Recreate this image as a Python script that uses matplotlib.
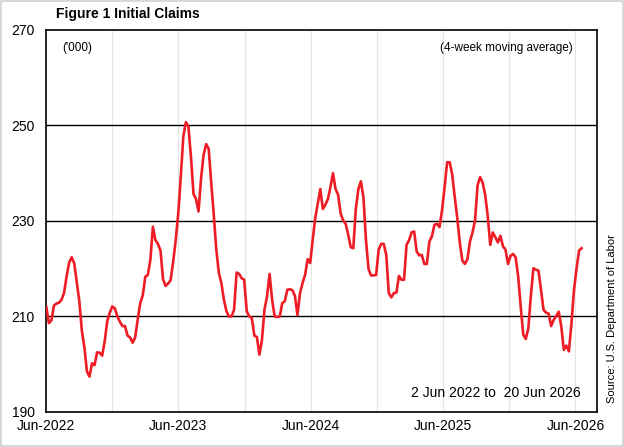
import datetime as dt

import matplotlib
matplotlib.use("Agg")
import matplotlib.dates as mdates
import matplotlib.pyplot as plt
from matplotlib.patches import Rectangle

plt.rcParams["font.family"] = ["Liberation Sans", "DejaVu Sans"]

# 4-week moving average of initial claims ('000), weekly from 2 Jun 2022
START = dt.date(2022, 6, 2)
claims = [
    212.0, 208.6, 209.2, 212.3, 212.7, 212.9, 213.5, 215.0, 218.5, 221.3,
    222.4, 221.1, 217.2, 213.2, 207.0, 203.5, 198.5, 197.4, 200.2, 199.8,
    202.5, 202.4, 201.8, 204.8, 209.0, 210.8, 212.1, 211.7, 210.0, 208.9,
    208.0, 208.0, 206.0, 205.6, 204.5, 205.6, 209.3, 212.8, 214.4, 218.3,
    218.7, 221.8, 228.8, 226.0, 225.2, 223.8, 217.8, 216.4, 216.9, 217.6,
    221.5, 226.0, 231.6, 239.3, 247.7, 250.7, 249.8, 243.5, 235.7, 234.6,
    232.0, 239.0, 243.9, 246.1, 245.1, 238.0, 231.3, 224.0, 219.1, 217.0,
    213.5, 211.1, 210.0, 210.0, 211.4, 219.2, 218.9, 218.0, 217.7, 211.1,
    210.0, 209.7, 206.0, 205.7, 202.0, 205.1, 211.5, 214.2, 218.9, 213.5,
    210.0, 209.9, 210.0, 212.8, 213.2, 215.6, 215.7, 215.5, 214.3, 210.3,
    214.9, 217.0, 218.7, 222.0, 221.2, 226.1, 230.6, 233.7, 236.7, 232.5,
    233.4, 234.6, 237.1, 240.0, 236.7, 235.5, 231.6, 230.1, 229.4, 227.1,
    224.5, 224.3, 232.5, 236.7, 238.3, 235.0, 226.0, 220.0, 218.6, 218.6,
    218.7, 224.0, 225.2, 225.2, 222.9, 214.9, 214.0, 214.9, 215.0, 218.5,
    217.7, 217.7, 225.0, 226.0, 227.6, 227.8, 223.6, 222.8, 222.9, 221.0,
    221.0, 225.7, 226.8, 229.2, 229.4, 228.7, 232.3, 237.1, 242.3, 242.3,
    239.7, 235.0, 230.6, 225.4, 221.7, 221.0, 222.0, 225.7, 227.6, 230.1,
    237.5, 239.2, 238.0, 235.5, 231.0, 225.0, 227.6, 226.6, 225.5, 226.9,
    224.7, 224.0, 221.0, 222.7, 223.1, 222.4, 218.4, 212.1, 206.2, 205.3,
    207.5, 214.3, 220.1, 219.8, 219.6, 215.6, 211.4, 210.8, 210.6, 208.0,
    209.3, 210.1, 211.0, 207.9, 203.0, 203.9, 202.7, 208.5, 215.5, 220.0,
    223.8, 224.3,
]
dates = [START + dt.timedelta(weeks=i) for i in range(len(claims))]

y_ticks = [190, 210, 230, 250, 270]
x_years = [2022, 2023, 2024, 2025, 2026]

fig = plt.figure(figsize=(6.24, 4.47), dpi=100)
fig.patches.append(Rectangle((0.002, 0.002), 0.996, 0.996, transform=fig.transFigure,
                             fill=False, edgecolor="#d0d0d0", lw=1.2))
ax = fig.add_axes([0.0737, 0.0783, 0.8833, 0.8547])

ax.plot(dates, claims, color="#ee1c25", lw=1.9, zorder=3)

ax.set_ylim(190, 270)
ax.set_xlim(dt.date(2022, 6, 1), dt.date(2026, 7, 31))
ax.set_yticks(y_ticks)
ax.set_xticks([dt.date(y, 6, 1) for y in x_years])
ax.xaxis.set_major_formatter(mdates.DateFormatter("%b-%Y"))
ax.set_xticks([dt.date(y, 12, 1) for y in x_years[:-1]], minor=True)
ax.tick_params(which="both", length=0, labelsize=10, colors="black")
ax.tick_params(axis="y", pad=8)
ax.tick_params(axis="x", pad=5)

for x in ax.get_xticks(minor=False)[1:]:
    ax.axvline(x, color="#e6e6e6", lw=0.9, zorder=1)
for x in ax.get_xticks(minor=True):
    ax.axvline(x, color="#e6e6e6", lw=0.9, zorder=1)
for v in y_ticks[1:-1]:
    ax.axhline(v, color="black", lw=1.0, zorder=2)

for s in ax.spines.values():
    s.set_color("black")
    s.set_linewidth(1.2)

fig.text(0.09, 0.968, "Figure 1 Initial Claims", fontsize=10, fontweight="bold",
         ha="left", va="center")
ax.text(0.03, 0.953, "('000)", transform=ax.transAxes, fontsize=8.5, ha="left", va="center")
ax.text(0.955, 0.953, "(4-week moving average)", transform=ax.transAxes, fontsize=8.5,
        ha="right", va="center")
ax.text(0.97, 0.05, "2 Jun 2022 to  20 Jun 2026", transform=ax.transAxes, fontsize=10,
        ha="right", va="center")
fig.text(0.981, 0.098, "Source: U.S. Department of Labor", rotation=90, fontsize=8,
         ha="center", va="bottom")

fig.savefig("out.png", dpi=100)
